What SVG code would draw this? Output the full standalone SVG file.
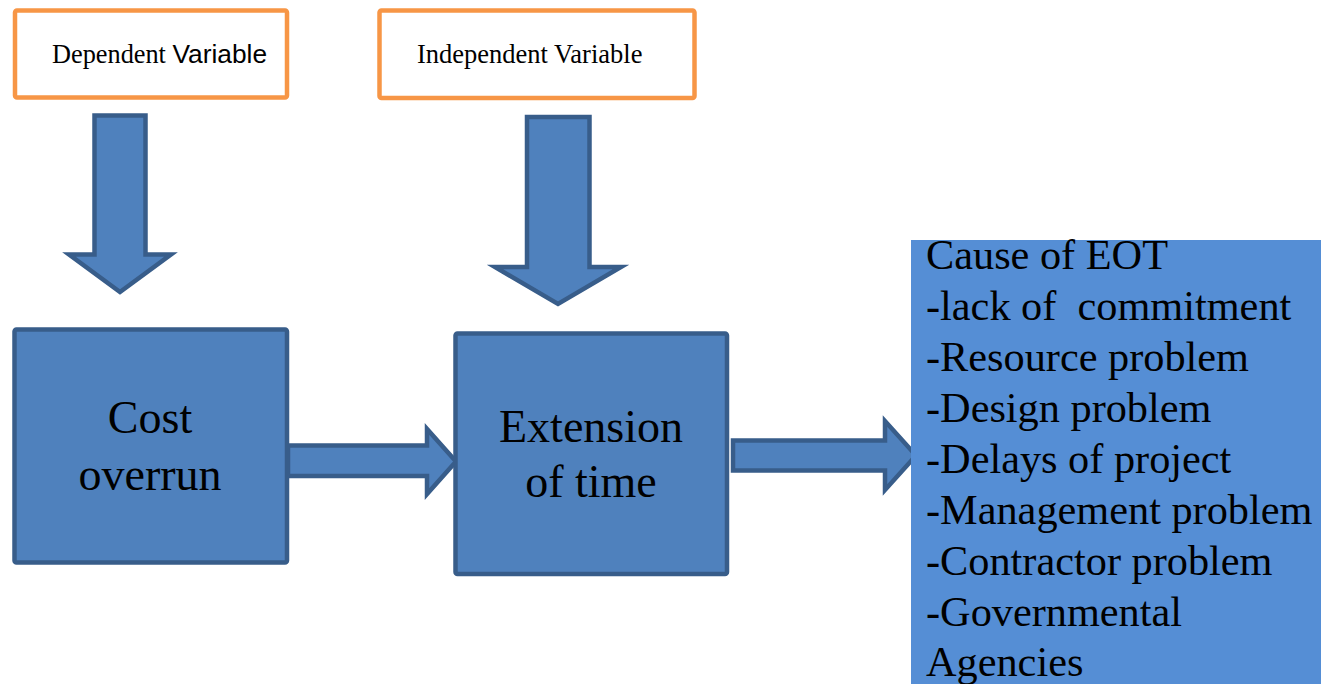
<svg xmlns="http://www.w3.org/2000/svg" width="1327" height="684" viewBox="0 0 1327 684">
  <style>
    .var { fill: #ffffff; stroke: #F79646; stroke-width: 4.5; }
    .blk { fill: #4F81BD; stroke: #385D8A; stroke-width: 4.5; stroke-linejoin: round; }
    .arr { fill: #4F81BD; stroke: #385D8A; stroke-width: 4.5; stroke-linejoin: miter; }
    .serif { font-family: "Liberation Serif", "Times New Roman", serif; fill: #000; }
    .sans { font-family: "Liberation Sans", Arial, sans-serif; fill: #000; }
    .big { font-size: 46px; text-anchor: middle; }
    .list { font-size: 42.3px; }
  </style>

  <rect width="1327" height="684" fill="#ffffff"/>

  <!-- connectors: block arrows -->
  <g id="connectors">
    <path class="arr" d="M94.5,115.5 H145.5 V254.5 H171 L120,292 L69,254.5 H94.5 Z"/>
    <path class="arr" d="M527,117 H589.5 V267 H621 L558,304 L495,267 H527 Z"/>
    <path class="arr" d="M288,445.5 H427 V429 L456,461.5 L427,494 V476 H288 Z"/>
    <path class="arr" d="M733,440.5 H885 V421 L916,455.5 L885,490 V470.5 H733 Z"/>
  </g>

  <g id="dependent-variable">
    <rect class="var" x="15" y="10.5" width="272" height="87" rx="2"/>
    <text x="52" y="63" font-size="26.3"><tspan class="serif">Dependent </tspan><tspan class="sans">Variable</tspan></text>
  </g>

  <g id="independent-variable">
    <rect class="var" x="379.5" y="10.5" width="315" height="87.5" rx="2"/>
    <text class="serif" x="417" y="63" font-size="26.5">Independent Variable</text>
  </g>

  <g id="cost-overrun">
    <rect class="blk" x="14.5" y="329.5" width="272.5" height="233" rx="2"/>
    <text class="serif big" x="150" y="433">Cost</text>
    <text class="serif big" x="150" y="490">overrun</text>
  </g>

  <g id="extension-of-time">
    <rect class="blk" x="455.5" y="333.5" width="271.5" height="240.5" rx="2"/>
    <text class="serif big" x="591" y="442">Extension</text>
    <text class="serif big" x="591" y="497">of time</text>
  </g>

  <g id="cause-of-eot">
    <rect x="911" y="240" width="410" height="444" fill="#558ED5"/>
    <text class="serif list" x="926" y="269">Cause of EOT</text>
    <text class="serif list" x="926" y="320" xml:space="preserve">-lack of  commitment</text>
    <text class="serif list" x="926" y="371">-Resource problem</text>
    <text class="serif list" x="926" y="422">-Design problem</text>
    <text class="serif list" x="926" y="473">-Delays of project</text>
    <text class="serif list" x="926" y="524">-Management problem</text>
    <text class="serif list" x="926" y="575">-Contractor problem</text>
    <text class="serif list" x="926" y="626">-Governmental</text>
    <text class="serif list" x="926" y="676">Agencies</text>
  </g>
</svg>
